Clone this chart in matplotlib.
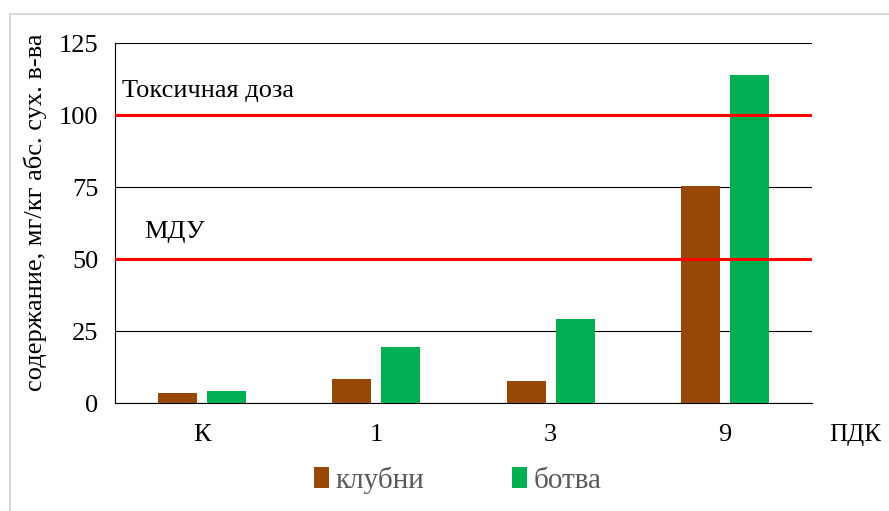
import matplotlib
matplotlib.use("Agg")
import matplotlib.pyplot as plt
import numpy as np
from matplotlib.patches import Rectangle

categories = ["К", "1", "3", "9"]
tubers = [3.5, 8.2, 7.5, 75.5]
tops = [4.2, 19.3, 29.0, 114.0]
toxic_dose = 100
mdu = 50

plt.rcParams["font.family"] = ["Liberation Serif", "DejaVu Serif"]

fig = plt.figure(figsize=(8.89, 5.11), dpi=100)
ax = fig.add_axes([115 / 889, 1 - 403 / 511, 697 / 889, 360 / 511])

x = np.arange(len(categories))
w = 0.224
ax.bar(x - 0.0285 - w / 2, tubers, w, color="#974706", label="клубни", zorder=3)
ax.bar(x + 0.0285 + w / 2, tops, w, color="#00B050", label="ботва", zorder=3)

ax.axhline(toxic_dose, color="#FF0000", lw=2.2, zorder=4)
ax.axhline(mdu, color="#FF0000", lw=2.2, zorder=4)
ax.text(-0.46, 108.5, "Токсичная доза", fontsize=19, va="center", ha="left")
ax.text(-0.33, 59.5, "МДУ", fontsize=19, va="center", ha="left")

ax.set_xlim(-0.5, 3.5)
ax.set_ylim(0, 125)
ax.set_yticks([0, 25, 50, 75, 100, 125])
ax.set_xticks(x)
ax.set_xticklabels(categories)
ax.tick_params(axis="both", length=0, labelsize=19)
ax.tick_params(axis="x", pad=15)
ax.tick_params(axis="y", pad=12)
ax.yaxis.grid(True, color="black", lw=0.8, zorder=0)
for side in ["top", "right"]:
    ax.spines[side].set_visible(False)
ax.spines["left"].set_color("black")
ax.spines["bottom"].set_color("black")

ax.set_ylabel("содержание, мг/кг абс. сух. в-ва", fontsize=19)
ax.yaxis.set_label_coords(-0.097, 0.53)
fig.text(855 / 889, 1 - 435 / 511, "ПДК", fontsize=18, ha="center", va="center")

leg = fig.legend(loc="center", bbox_to_anchor=(458 / 889, 1 - 480 / 511), ncol=2,
                 frameon=False, fontsize=21, handlelength=0.5, handleheight=0.75,
                 columnspacing=3.0, handletextpad=0.25)
for t in leg.get_texts():
    t.set_color("#595959")

fig.patches.append(Rectangle((10 / 889, -0.1), 1.2, 1 - 14 / 511 + 0.1,
                             transform=fig.transFigure, fill=False,
                             edgecolor="#D9D9D9", lw=1.5))

fig.savefig("out.png", dpi=100)
